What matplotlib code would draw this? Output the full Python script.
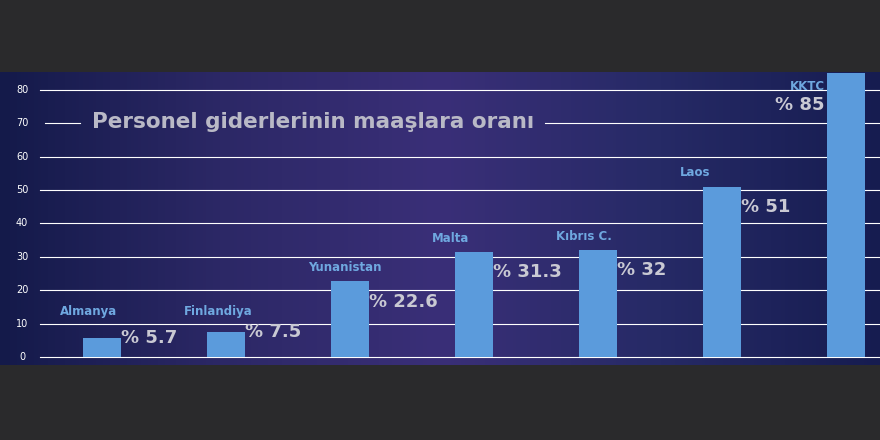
import matplotlib.pyplot as plt
import numpy as np
from matplotlib.colors import LinearSegmentedColormap

countries = ['Almanya', 'Finlandiya', 'Yunanistan', 'Malta', 'Kıbrıs C.', 'Laos', 'KKTC']
values = [5.7, 7.5, 22.6, 31.3, 32, 51, 85]
value_labels = ['% 5.7', '% 7.5', '% 22.6', '% 31.3', '% 32', '% 51', '% 85']
yticks = [0, 10, 20, 30, 40, 50, 60, 70, 80]

fig = plt.figure(figsize=(8.8, 4.4), dpi=100)
fig.patch.set_facecolor('#2a2a2c')
ax = fig.add_axes([0, 75 / 440, 1, 293 / 440])

x = np.arange(len(countries))
ax.set_xlim(-102 / 124, (880 - 102) / 124)
ax.set_ylim(-2.4, 85.3)

# gradient background
cmap = LinearSegmentedColormap.from_list('bg', ['#141a4a', '#2c2866', '#3a2f78', '#262a66', '#161c50'])
grad = np.linspace(0, 1, 256).reshape(1, -1)
ax.imshow(grad, aspect='auto', cmap=cmap, extent=[*ax.get_xlim(), *ax.get_ylim()], zorder=0)

gx0 = (40 - 102) / 124
gx1 = ax.get_xlim()[1]
for t in yticks:
    if t == 70:
        ax.plot([(45 - 102) / 124, (80 - 102) / 124], [t, t], color='white', lw=0.8, zorder=1)
        ax.plot([(545 - 102) / 124, gx1], [t, t], color='white', lw=0.8, zorder=1)
    else:
        ax.plot([gx0, gx1], [t, t], color='white', lw=0.8, zorder=1)
    ax.text((22 - 102) / 124, t, f'{t}', color='white', fontsize=7, ha='center', va='center')

ax.bar(x, values, width=0.31, color='#5b9bdc', zorder=2)

for i, (c, v, lab) in enumerate(zip(countries, values, value_labels)):
    if c == 'KKTC':
        ax.text(i - 0.17, 81, c, color='#6fa8e0', fontsize=8.5, fontweight='bold', ha='right', va='center')
        ax.text(i - 0.17, 75.5, lab, color='#c9c9d3', fontsize=13, fontweight='bold', ha='right', va='center')
        continue
    ax.text(i - 0.34, max(v + 4.2, 13.5), c, color='#6fa8e0', fontsize=8.5, fontweight='bold',
            ha='left', va='center')
    ax.text(i + 0.15, v if v < 10 else v - 6, lab, color='#c9c9d3', fontsize=13, fontweight='bold',
            ha='left', va='center')

ax.text((92 - 102) / 124, 70.3, 'Personel giderlerinin maaşlara oranı', color='#b9b9c6', fontsize=15.5,
        fontweight='bold', ha='left', va='center')

ax.axis('off')
fig.savefig('out.png', dpi=100, facecolor=fig.get_facecolor())
